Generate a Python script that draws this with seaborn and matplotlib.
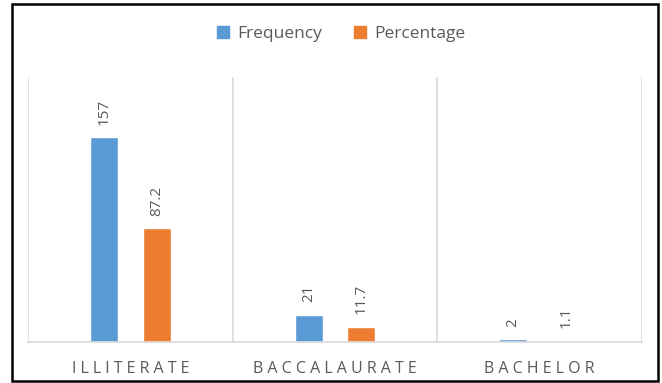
import matplotlib
matplotlib.use("Agg")
import matplotlib.pyplot as plt
import matplotlib.patches as mpatches
import seaborn as sns
import pandas as pd

# Education level counts and shares
categories = ["ILLITERATE", "BACCALAURATE", "BACHELOR"]
frequency = [157, 21, 2]
percentage = [87.2, 11.7, 1.1]
series_names = ["Frequency", "Percentage"]
colors = ["#5B9BD5", "#ED7D31"]

df = pd.DataFrame({
    "level": categories * 2,
    "value": frequency + percentage,
    "series": [series_names[0]] * 3 + [series_names[1]] * 3,
})

sns.set_theme(style="white")
plt.rcParams["font.family"] = ["Open Sans", "DejaVu Sans"]

W, H = 662, 383
fig = plt.figure(figsize=(W / 100, H / 100), dpi=100)
ax = fig.add_axes([28 / W, (H - 342) / H, 614 / W, 265 / H])

sns.barplot(data=df, x="level", y="value", hue="series", order=categories,
            hue_order=series_names, palette=colors, width=0.517, gap=0.47,
            saturation=1, ax=ax, legend=False)

text_gray = "#595959"
for cont in ax.containers:
    ax.bar_label(cont, labels=[f"{v:g}" for v in cont.datavalues],
                 rotation=90, padding=9, fontsize=11, color=text_gray)

ax.set_ylim(0, 203)
ax.set_xlim(-0.5, 2.5)
grid_gray = "#d9d9d9"
ax.vlines([-0.5, 0.5, 1.5, 2.5], 0, 203, colors=grid_gray, lw=1.2, zorder=0)
for s in ["top", "left", "right"]:
    ax.spines[s].set_visible(False)
ax.spines["bottom"].set_color(grid_gray)
ax.spines["bottom"].set_linewidth(1.2)

ax.set_yticks([])
ax.set_xlabel("")
ax.set_ylabel("")
ax.set_xticks(range(len(categories)))
ax.set_xticklabels([" ".join(c) for c in categories], fontsize=11.5,
                   color=text_gray)
ax.tick_params(axis="x", length=0, pad=14)

handles = [mpatches.Patch(color=c, label=n) for c, n in zip(colors, series_names)]
leg = fig.legend(handles=handles, loc="center", bbox_to_anchor=(341 / W, 1 - 34 / H),
                 ncol=2, frameon=False, handlelength=0.7, handleheight=0.7,
                 handletextpad=0.5, columnspacing=1.8, fontsize=12.5)
for t in leg.get_texts():
    t.set_color(text_gray)

# Outer frame around the whole chart
fig.patches.append(mpatches.Rectangle((12 / W, 2 / H), 646 / W, 377 / H,
                                      transform=fig.transFigure, fill=False,
                                      edgecolor="black", lw=1.8))

fig.savefig("out.png", dpi=100)
